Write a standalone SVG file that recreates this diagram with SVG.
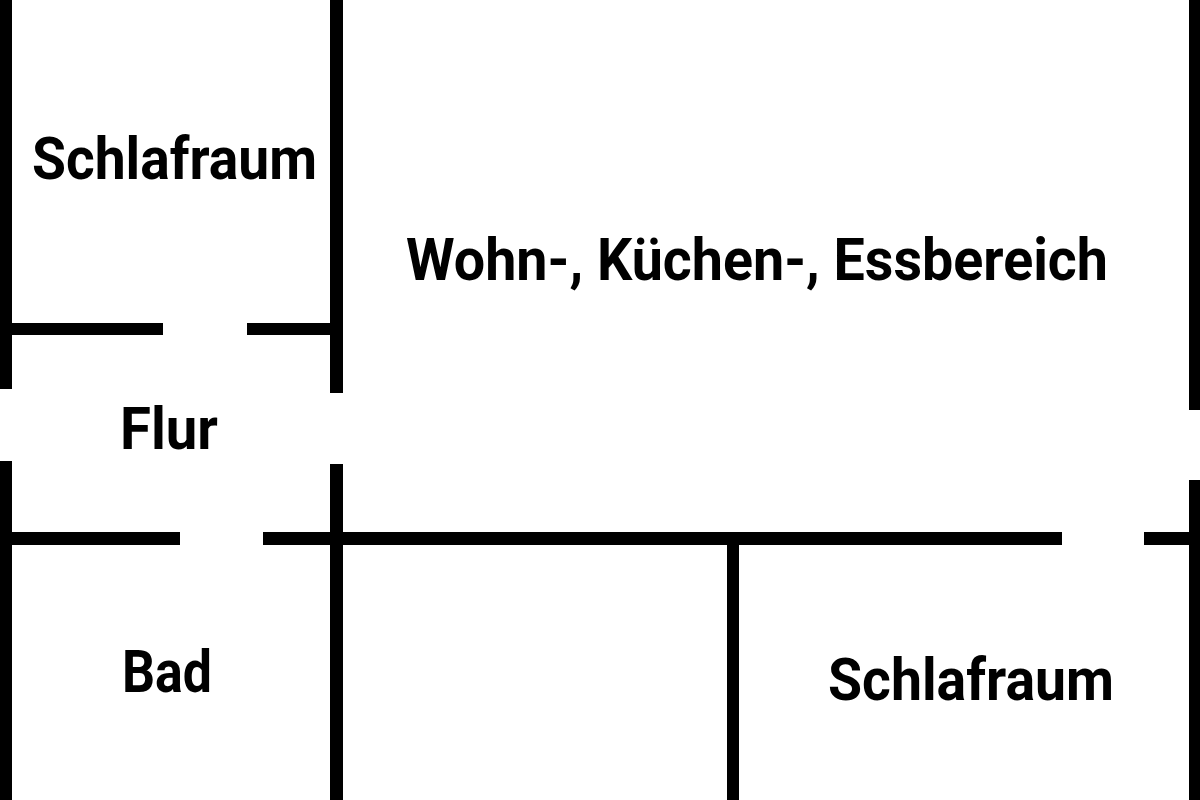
<svg xmlns="http://www.w3.org/2000/svg" width="1200" height="800" viewBox="0 0 1200 800">
<style>
.wall{fill:#000}
.lbl{font-family:Roboto,"Liberation Sans",sans-serif;font-weight:bold;font-size:60px;fill:#000}
</style>
<rect width="1200" height="800" fill="#fff"/>
<g id="walls">
<rect class="wall" x="0" y="0" width="12" height="389"/>
<rect class="wall" x="0" y="461" width="12" height="339"/>
<rect class="wall" x="330" y="0" width="13" height="393"/>
<rect class="wall" x="330" y="464" width="13" height="336"/>
<rect class="wall" x="1189" y="0" width="11" height="410"/>
<rect class="wall" x="1189" y="480" width="11" height="320"/>
<rect class="wall" x="0" y="323" width="163" height="12"/>
<rect class="wall" x="247" y="323" width="96" height="12"/>
<rect class="wall" x="0" y="532" width="180" height="13"/>
<rect class="wall" x="263" y="532" width="799" height="13"/>
<rect class="wall" x="1144" y="532" width="56" height="13"/>
<rect class="wall" x="727" y="545" width="12" height="255"/>
</g>
<g id="room-schlafraum-1"><text class="lbl" x="32" y="179" textLength="285" lengthAdjust="spacingAndGlyphs">Schlafraum</text></g>
<g id="room-wohn"><text class="lbl" x="406" y="280" textLength="702" lengthAdjust="spacingAndGlyphs">Wohn-, Küchen-, Essbereich</text></g>
<g id="room-flur"><text class="lbl" x="120" y="449" textLength="98" lengthAdjust="spacingAndGlyphs">Flur</text></g>
<g id="room-bad"><text class="lbl" x="122" y="692" textLength="90" lengthAdjust="spacingAndGlyphs">Bad</text></g>
<g id="room-schlafraum-2"><text class="lbl" x="828" y="700" textLength="286" lengthAdjust="spacingAndGlyphs">Schlafraum</text></g>
</svg>
